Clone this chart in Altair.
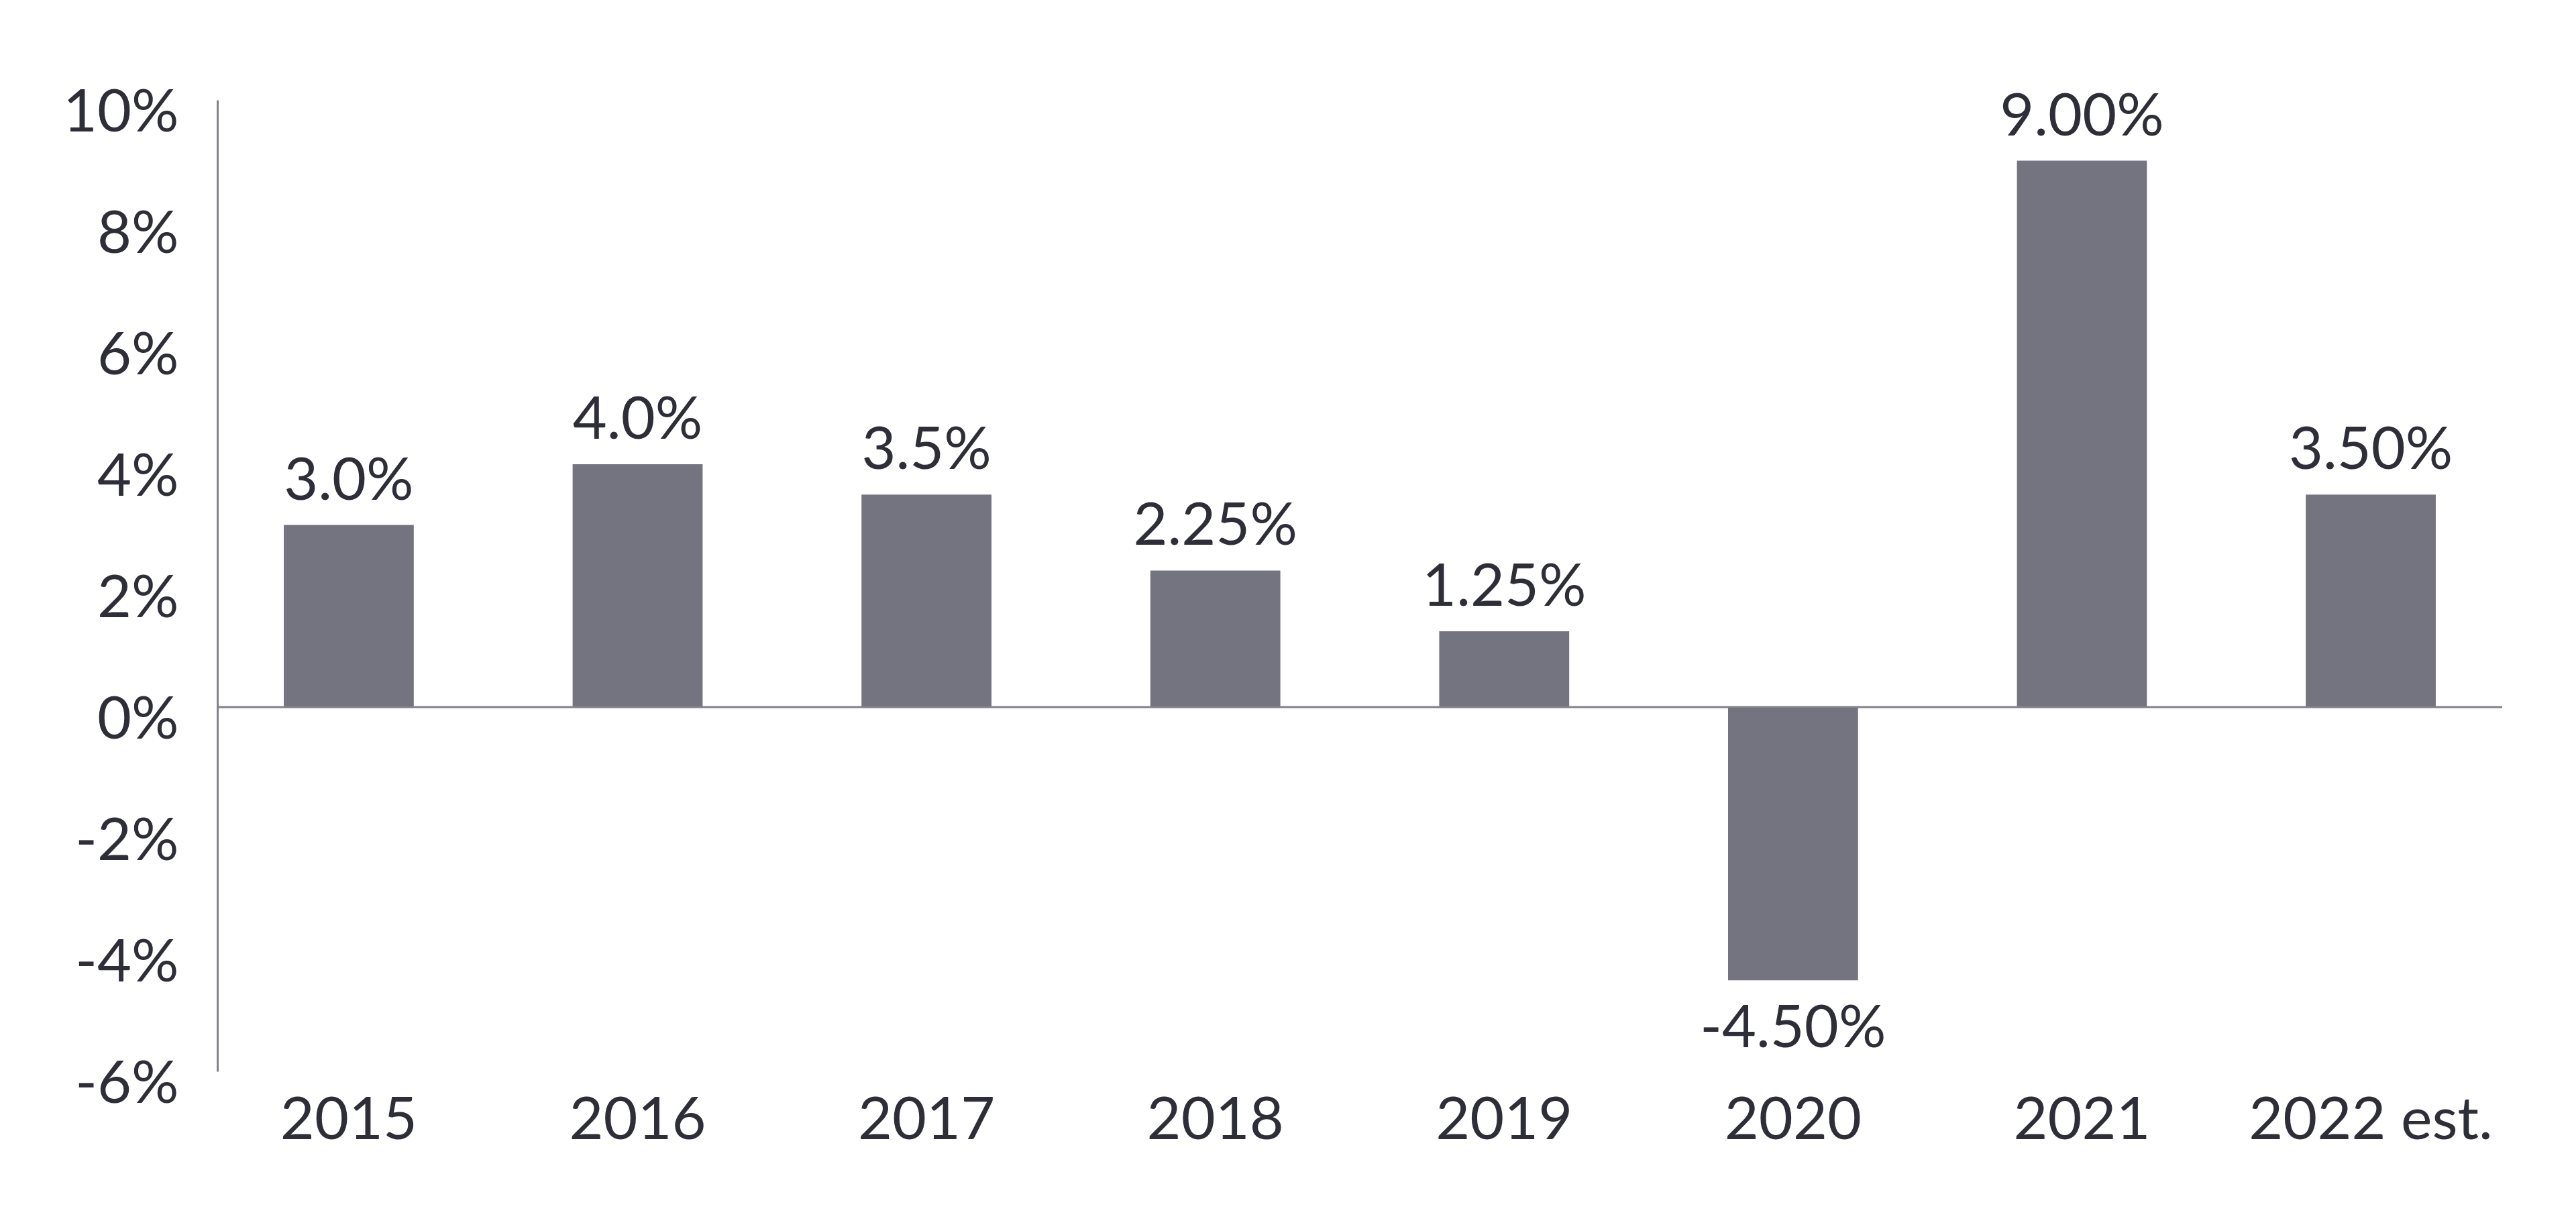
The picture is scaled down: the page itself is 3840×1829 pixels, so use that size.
import altair as alt
import pandas as pd

years = ["2015", "2016", "2017", "2018", "2019", "2020", "2021", "2022 est."]
growth = [3.0, 4.0, 3.5, 2.25, 1.25, -4.5, 9.0, 3.5]
labels = ["3.0%", "4.0%", "3.5%", "2.25%", "1.25%", "-4.50%", "9.00%", "3.50%"]
y_ticks = [-6, -4, -2, 0, 2, 4, 6, 8, 10]

df = pd.DataFrame({"year": years, "value": growth, "label": labels})

FONT = "Lato"
TEXT = "#2e2e38"
BAR = "#747480"
LINE = "#82818c"
FS = 88

x_enc = alt.X(
    "year:N",
    sort=years,
    title=None,
    scale=alt.Scale(paddingInner=0.55, paddingOuter=0.23),
    axis=alt.Axis(
        domain=False, ticks=False, labelAngle=0, labelFont=FONT,
        labelFontSize=FS, labelColor=TEXT, labelPadding=30, labelLimit=0,
    ),
)
y_enc = alt.Y(
    "value:Q",
    title=None,
    scale=alt.Scale(domain=[-6, 10], nice=False, zero=False),
    axis=alt.Axis(
        values=y_ticks, grid=False, ticks=False, domain=True,
        domainColor=LINE, domainWidth=3, labelFont=FONT, labelFontSize=FS,
        labelColor=TEXT, labelPadding=58, labelOffset=20,
        labelExpr="datum.value + '%'",
    ),
)

base = alt.Chart(df)

bars = base.mark_bar(color=BAR).encode(x=x_enc, y=y_enc)

zero = alt.Chart(pd.DataFrame({"z": [0]})).mark_rule(color=LINE, strokeWidth=3).encode(
    y=alt.Y("z:Q", scale=alt.Scale(domain=[-6, 10], nice=False, zero=False))
)

pos_text = base.transform_filter("datum.value >= 0").mark_text(
    font=FONT, fontSize=FS, color=TEXT, baseline="alphabetic", dy=-38
).encode(x=alt.X("year:N", sort=years), y="value:Q", text="label:N")

neg_text = base.transform_filter("datum.value < 0").mark_text(
    font=FONT, fontSize=FS, color=TEXT, baseline="alphabetic", dy=100
).encode(x=alt.X("year:N", sort=years), y="value:Q", text="label:N")

chart = (
    alt.layer(bars, zero, pos_text, neg_text)
    .properties(
        width=3406,
        height=1448,
        autosize=alt.AutoSizeParams(type="none"),
        padding={"left": 316, "top": 141, "right": 90, "bottom": 190},
        background="white",
    )
    .configure_view(stroke=None)
)

chart.save("out.html", embed_options={"renderer": "svg", "actions": False})
